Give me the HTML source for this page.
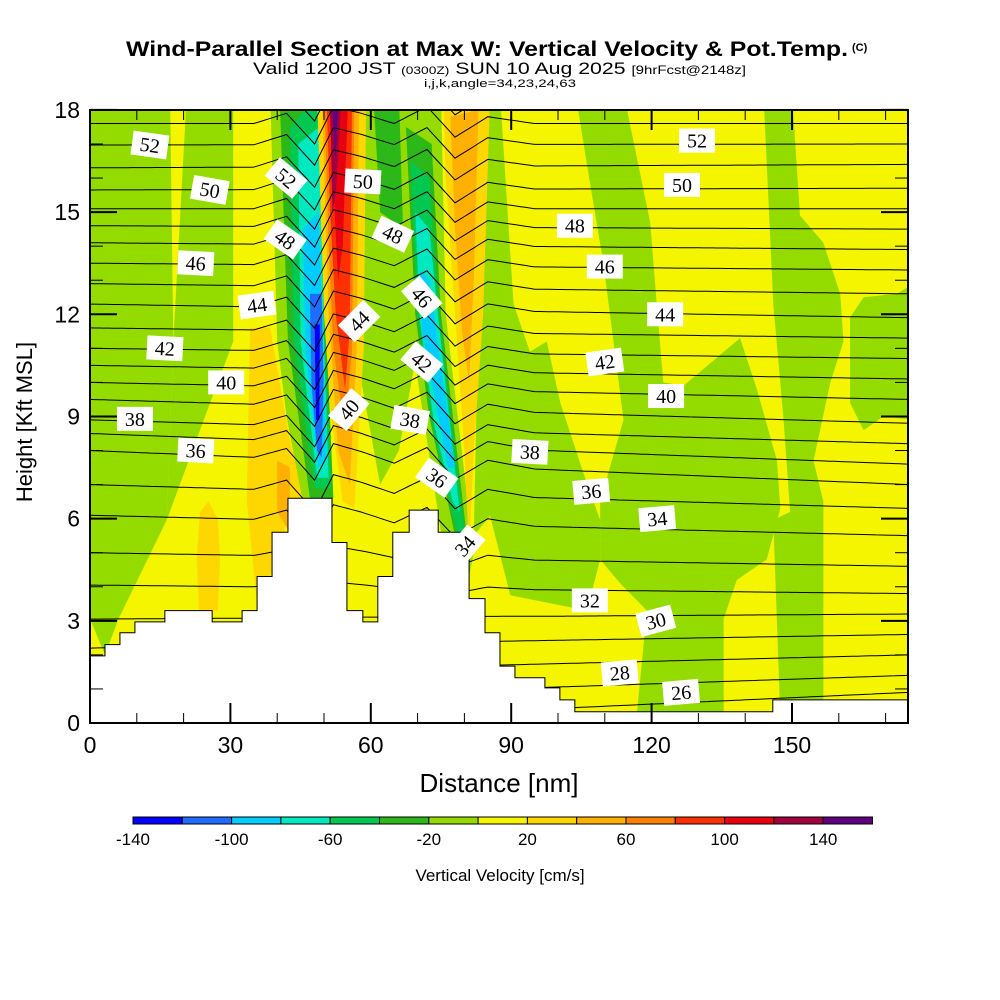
<!DOCTYPE html>
<html><head><meta charset="utf-8"><style>
html,body{margin:0;padding:0;background:#fff;}
svg{display:block;font-family:"Liberation Sans",sans-serif;}
</style></head><body>
<svg id="chart" width="1000" height="1000" viewBox="0 0 1000 1000" xmlns="http://www.w3.org/2000/svg">
<text x="126" y="56" font-size="21" font-weight="bold" textLength="722" lengthAdjust="spacingAndGlyphs">Wind-Parallel Section at Max W: Vertical Velocity &amp; Pot.Temp.</text>
<text x="852" y="51" font-size="11" font-weight="bold">(C)</text>
<text x="253" y="74" font-size="17" textLength="493" lengthAdjust="spacingAndGlyphs">Valid 1200 JST <tspan font-size="11">(0300Z)</tspan> SUN 10 Aug 2025 <tspan font-size="12">[9hrFcst@2148z]</tspan></text>
<text x="424" y="87" font-size="11" textLength="152" lengthAdjust="spacingAndGlyphs">i,j,k,angle=34,23,24,63</text>
<defs><clipPath id="pc"><rect x="90" y="110" width="818" height="613"/></clipPath></defs>
<g id="plot" clip-path="url(#pc)"></g>
<g id="frame"></g>
<text x="0" y="0" transform="translate(32,422) rotate(-90)" text-anchor="middle" font-size="22">Height [Kft MSL]</text>
<text x="499" y="792" text-anchor="middle" font-size="26">Distance [nm]</text>
<g id="cbar"></g>
<text x="500" y="881" text-anchor="middle" font-size="17">Vertical Velocity [cm/s]</text>
</svg>
<script>
// axes ranges
const xMax = 174.8, yMax = 18;
const X = v => 90 + v * 4.68;
const Y = v => 723 - v * 34.06;
const colors = ["#0000ff","#1f6cff","#00ccff","#00e8c0","#00c850","#2cb818","#94dc00","#f5f500","#ffd700","#ffb000","#ff8000","#ff3000","#e80010","#a00040","#600080"];
const cbarTicks = [-140,-100,-60,-20,20,60,100,140];
const xTicks = [0,30,60,90,120,150];
const yTicks = [0,3,6,9,12,15,18];
// filled regions: [colorIndex, polygon in (nm, kft)]
const regionColors = [6,6,6,6,6,6,6,5, 8,8,9, 6,5,4,3,2,1,0, 8,9,10,11,12,13,14, 6,5,4,3,2, 8,9];
const regionPolys = [
 [[0,18.5],[17.1,18.5],[17.8,11.2],[16.4,5.96],[6.1,3.06],[3.2,2.0],[0,3.06]],
 [[20.7,18.5],[30.6,18.5],[30.6,11.2],[24.2,8.86],[16.4,5.96],[17.8,11.2]],
 [[84,18.5],[85.5,18.5],[87.6,18.5],[90.5,12.3],[94,10.9],[97.6,11.2],[100.5,9.4],[105.4,7.35],[109,5.96],[109,4.8],[106.2,3.3],[89.8,3.75],[85.5,6.08],[82,5.5]],
 [[103.7,18.5],[114,18.5],[119.7,14.7],[121.1,12.3],[122.5,10],[126.8,9.9],[138.9,11.3],[142.5,9.8],[146.8,7.7],[147.5,6.3],[144.6,4.8],[138.2,4.2],[135.4,3.06],[135.4,0.2],[116.8,0.2],[119,3.3],[113.3,4.1],[109,4.8],[109,6.5],[114,8.9],[109.7,13.5],[106.9,15.8]],
 [[143.9,18.5],[150,18.5],[151.7,14.9],[156.7,14.1],[160.3,12.6],[161,11.2],[158.2,10],[154.6,7.7],[156.7,6.5],[156.7,0.2],[147.5,0.2],[146,5.96],[149.6,6.2],[148.2,8.9],[146,12.3]],
 [[162.4,11.9],[165.3,12.5],[172.4,12.6],[176,12.9],[176,8.9],[169.5,9],[165.3,8.6],[162.4,9.4]],
 [[57,18.5],[69,18.5],[70,11],[66,8],[62,7],[58,10],[58.5,14]],
 [[60.5,18.5],[71,18.5],[70,15],[66,14.6],[62,15]],
 [[34.2,11.6],[38.5,11.6],[42.7,8.3],[46,6.6],[42.3,6.0],[38.9,4.5],[35.7,3.5],[33.5,6.5]],
 [[22.8,4.8],[23.5,6.2],[25.3,6.5],[27.3,6.0],[27.8,4.8],[27.3,3.3],[23.3,3.3]],
 [[40,7.7],[42.7,7.5],[42.7,5.6],[40,6.2]],
 [[38.5,18.5],[49.1,18.5],[49.9,11.2],[52,6.4],[45.6,6.4],[42,9],[40,11.2]],
 [[40.5,18.5],[49.1,18.5],[50.6,11.2],[52,6.6],[47,6.6],[42.3,11.2]],
 [[42.7,17.5],[49.1,18.5],[50.3,11.2],[51.5,6.9],[48,6.9],[43.5,11.2]],
 [[44.5,17],[49,17.5],[50,11.2],[51,7.2],[48.5,7.2],[45,11.2]],
 [[45.5,14.5],[48.8,15],[49.8,11.2],[50.5,7.8],[48.8,7.5],[46,11]],
 [[47,12.6],[49.5,12.6],[49.9,10],[49.5,7.8],[48.5,8],[47.3,10]],
 [[48,11.7],[49.1,11.7],[49,8.9],[48.3,8.9]],
 [[48.5,18.5],[59,18.5],[58.5,11],[56.5,6.3],[54,6.5],[51.5,9],[50,12]],
 [[49.5,18.5],[57.5,18.5],[57,11],[55.5,7],[53,8],[51,12]],
 [[50,18.5],[56.5,18.5],[56,11],[54.5,8.5],[52,11],[51,14]],
 [[50.5,18.5],[56,18.5],[55.5,11.5],[54.5,9.8],[52.5,12],[51.3,15]],
 [[51,18.5],[55.2,18.5],[54,14],[53,13]],
 [[51.3,18.5],[53.8,18.5],[52.5,15.5],[51.8,15]],
 [[51.6,18.5],[53.2,18.5],[52.4,16.5]],
 [[66,18.5],[75,18.5],[76,12],[82,5],[80,3.6],[75,5.6],[69,11],[67,14]],
 [[67.5,17.5],[73,17],[75,12],[80.5,5.5],[78,5.5],[72.5,9],[69.5,12]],
 [[68.5,16.5],[72.5,16],[74.5,12],[80,5.6],[78.5,5.6],[73.5,8.5],[70,12]],
 [[69.5,15],[72.5,14.5],[74.5,11.8],[79,6.2],[77.5,6.5],[73.5,8.8],[70.5,11.8]],
 [[70.5,13.3],[72.5,13],[74,11.5],[78,7.5],[76.5,7.5],[73,10],[71,11.5]],
 [[75.5,18.5],[85.5,18.5],[84,12],[82,8],[81,5],[80,8],[77.5,13],[76,16]],
 [[77,17.8],[83,18],[82,13],[81,10],[79.5,11.5],[78,14.5]]
];
// theta levels with heights at left (0 nm) and right (175 nm) edges
const thetaLevels = [26,27,28,29,30,31,32,33,34,35,36,37,38,39,40,41,42,43,44,45,46,47,48,49,50,51,52,53,54];
const heightLeft  = [-1,-0.2,0.6,1.4,2.2,3.05,4.05,5.0,6.1,7.0,8.0,8.5,8.9,9.5,10.0,10.5,11.0,11.6,12.3,12.9,13.5,14.1,14.6,15.1,15.65,16.3,16.97,17.6,18.3];
const heightRight = [0.5,0.9,1.4,2.0,2.6,3.2,3.8,4.6,5.5,6.3,7.0,7.6,8.2,8.8,9.5,10.1,10.7,11.3,11.9,12.6,13.3,13.9,14.5,15.1,15.7,16.4,17.0,17.6,18.2];
const pertX = [0,35,42,48,52,58,65,72,78,85,95,175];
const pertH = [0,0,0.3,-0.6,0.5,0.3,0,0.5,-0.4,0.2,0,0];
// terrain steps: start distance, height
const terrainX = [0,3.2,6.4,9.6,16.0,26.1,32.5,35.7,38.9,42.3,51.7,54.9,58.3,61.5,64.7,68.2,74.4,81.0,84.4,87.6,90.8,97.2,100.4,103.6,145.9];
const terrainH = [1.97,2.3,2.65,2.97,3.3,2.97,3.3,4.3,5.6,6.6,5.3,3.3,2.97,4.3,5.6,6.25,5.6,3.65,2.65,1.67,1.33,1.03,0.68,0.33,0.68];
// contour labels
const labelVals = [52,50,46,44,42,40,38,36,52,48,50,44,40,48,46,42,38,36,34,52,50,48,46,44,42,40,38,36,34,32,30,28,26];
const labelX = [12.8,25.6,22.6,35.7,16.0,29.1,9.6,22.6,41.9,41.7,58.3,57.5,55.3,64.7,70.9,70.9,68.4,74.1,80.1,129.7,126.5,103.6,110.0,122.9,110.0,123.1,94.0,107.1,121.2,106.8,120.9,113.2,126.3];
const labelY = [16.97,15.65,13.5,12.27,11.0,10.0,8.93,8.0,16.0,14.2,15.9,11.8,9.2,14.35,12.5,10.6,8.9,7.2,5.2,17.1,15.8,14.6,13.4,12.0,10.6,9.6,7.96,6.8,6.0,3.6,3.0,1.47,0.9];
const labelRot = [8,10,3,-8,3,0,0,3,40,35,3,-45,-50,25,50,40,10,35,-50,0,0,0,0,0,-8,0,3,-5,-5,0,-15,-5,-5];

const NS = "http://www.w3.org/2000/svg";
function mk(tag, attrs, parent){const e=document.createElementNS(NS,tag);for(const k in attrs)e.setAttribute(k,attrs[k]);parent.appendChild(e);return e;}
const plot = document.getElementById('plot');
const bg = mk('rect',{x:90,y:110,width:818,height:613,fill:colors[7]},plot);


regionPolys.forEach((poly,i)=>{
  const p = mk('polygon',{points:poly.map(q=>X(q[0])+','+Y(q[1])).join(' '),fill:colors[regionColors[i]]},plot);
  
  
});
function interp(xs,ys,x){ if(x<=xs[0])return ys[0]; for(let i=1;i<xs.length;i++){ if(x<=xs[i]){const t=(x-xs[i-1])/(xs[i]-xs[i-1]);return ys[i-1]+t*(ys[i]-ys[i-1]);} } return ys[ys.length-1]; }
thetaLevels.forEach((th,i)=>{
  const pts=[];
  for(let x=0;x<=175;x+=1){
    const t=x/175;
    let h=heightLeft[i]*(1-t)+heightRight[i]*t;
    const w=Math.max(0,Math.min(1,(h-3)/3));
    h+=interp(pertX,pertH,x)*w;
    pts.push(X(x).toFixed(1)+','+Y(h).toFixed(1));
  }
  const l = mk('polyline',{points:pts.join(' '),fill:'none',stroke:'#000','stroke-width':1},plot);
  
  
});
// terrain
let tp=[[X(0),Y(0)]];
terrainX.forEach((x,i)=>{const xe=i<terrainX.length-1?terrainX[i+1]:xMax+1; tp.push([X(x),Y(terrainH[i])]); tp.push([X(xe),Y(terrainH[i])]);});
tp.push([X(xMax+1),Y(0)]);
const terr = mk('polygon',{points:tp.map(p=>p.join(',')).join(' '),fill:'#fff',stroke:'#000','stroke-width':1},plot);


labelVals.forEach((v,i)=>{
  const g = mk('g',{transform:`translate(${X(labelX[i])},${Y(labelY[i])}) rotate(${labelRot[i]})`},plot);
  
  
  mk('rect',{x:-18,y:-12,width:36,height:24,fill:'#fff'},g);
  const t = mk('text',{x:0,y:7,'text-anchor':'middle','font-size':20,'font-family':'Liberation Serif, serif'},g);
  t.textContent=v;
});
// frame
const frame=document.getElementById('frame');
mk('rect',{x:90,y:110,width:818,height:613,fill:'none',stroke:'#000','stroke-width':2},frame);
for(let v=0;v<=170;v+=10){
  const major = v%30===0;
  const len = major?20:10;
  mk('line',{x1:X(v),x2:X(v),y1:723,y2:723-len,stroke:'#000','stroke-width':major?2:1},frame);
  mk('line',{x1:X(v),x2:X(v),y1:110,y2:110+len,stroke:'#000','stroke-width':major?2:1},frame);
}
for(let v=0;v<=18;v+=1){
  const major=v%3===0; const len=major?27:13;
  mk('line',{x1:90,x2:90+len,y1:Y(v),y2:Y(v),stroke:'#000','stroke-width':major?2:1},frame);
  mk('line',{x1:908,x2:908-len,y1:Y(v),y2:Y(v),stroke:'#000','stroke-width':major?2:1},frame);
}
xTicks.forEach(v=>{
  const t=mk('text',{x:X(v),y:753,'text-anchor':'middle','font-size':23},frame);
  
  
  t.textContent=v;
});
yTicks.forEach(v=>{
  const t=mk('text',{x:80,y:Y(v)+8,'text-anchor':'end','font-size':23},frame);
  
  
  t.textContent=v;
});
// colorbar
const cb=document.getElementById('cbar');
const cbX0=133, cbW=49.3;
colors.forEach((c,i)=>{
  const r=mk('rect',{x:cbX0+i*cbW,y:817,width:cbW,height:7,fill:c,stroke:'#000','stroke-width':1},cb);
  
  
});
cbarTicks.forEach(v=>{
  const t=mk('text',{x:cbX0+(v+140)/20*cbW,y:845,'text-anchor':'middle','font-size':17},cb);
  
  
  t.textContent=v;
});
</script>
</body></html>
